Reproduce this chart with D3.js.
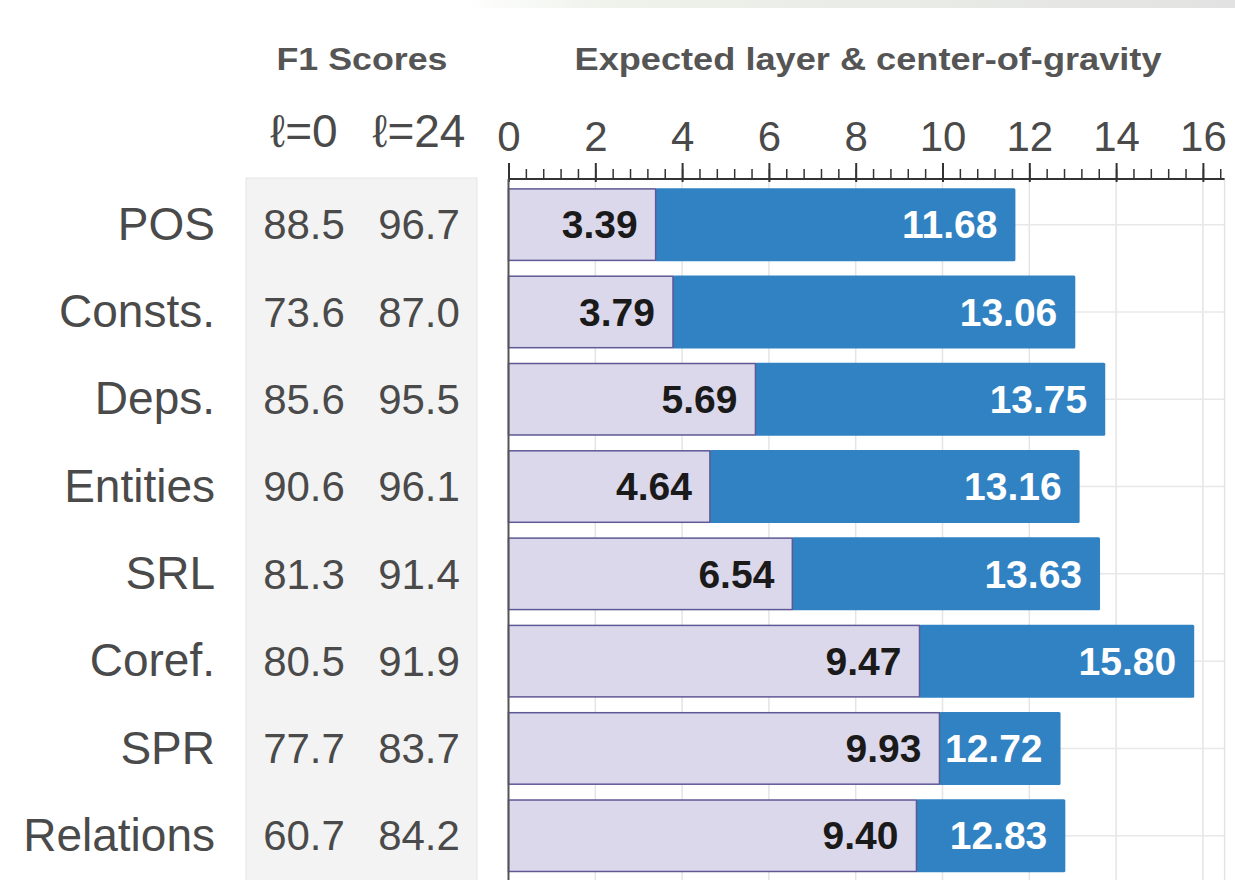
<!DOCTYPE html>
<html><head><meta charset="utf-8">
<script src="https://cdn.jsdelivr.net/npm/d3@7"></script>
<style>html,body{margin:0;padding:0;background:#fff;}svg{display:block;}</style>
</head><body>
<svg id="c" width="1235" height="880"></svg>
<script>
const categories = ["POS","Consts.","Deps.","Entities","SRL","Coref.","SPR","Relations"];
const expectedLayer = [3.39,3.79,5.69,4.64,6.54,9.47,9.93,9.40];
const centerOfGravity = [11.68,13.06,13.75,13.16,13.63,15.80,12.72,12.83];
const f1Layer0 = ["88.5","73.6","85.6","90.6","81.3","80.5","77.7","60.7"];
const f1Layer24 = ["96.7","87.0","95.5","96.1","91.4","91.9","83.7","84.2"];
const f1Headers = ["ℓ=0","ℓ=24"];
const xTicks = [0,2,4,6,8,10,12,14,16];

const svg = d3.select("#c");
const font = "'Liberation Sans', Arial, Helvetica, sans-serif";

// faint top strip (screenshot artifact)
const defs = svg.append("defs");
const g = defs.append("linearGradient").attr("id","topg").attr("x1","0").attr("x2","1");
g.append("stop").attr("offset","0").attr("stop-color","#ffffff");
g.append("stop").attr("offset","0.2").attr("stop-color","#eef2ea");
g.append("stop").attr("offset","0.6").attr("stop-color","#e9ebe6");
g.append("stop").attr("offset","1").attr("stop-color","#e2e2e2");
svg.append("rect").attr("x",460).attr("y",0).attr("width",775).attr("height",8).attr("fill","url(#topg)");

const x = d3.scaleLinear().domain([0,16.5]).range([508.5,1224.6]);
const y = d3.scaleBand().domain(categories).range([181,181+8*87.3]).paddingInner(0.164).paddingOuter(0.082);
const axisY = 179;

// gridlines
const grid = svg.append("g");
grid.selectAll("line.v").data(xTicks.slice(1).concat([16.5])).join("line")
  .attr("x1",d=>x(d)).attr("x2",d=>x(d)).attr("y1",axisY).attr("y2",880)
  .attr("stroke","#e4e4e4").attr("stroke-width",1.5);
grid.selectAll("line.h").data(categories).join("line")
  .attr("x1",x(0)).attr("x2",x(16.5)).attr("y1",d=>y(d)+y.bandwidth()/2).attr("y2",d=>y(d)+y.bandwidth()/2)
  .attr("stroke","#e8e8e8").attr("stroke-width",1.5);

// F1 table background
svg.append("rect").attr("x",246).attr("y",178).attr("width",231).attr("height",710)
  .attr("fill","#f3f3f3").attr("stroke","#e6e6e6").attr("stroke-width",1);

// headers
svg.append("text").attr("x",362).attr("y",70).attr("text-anchor","middle")
  .attr("font-family",font).attr("font-weight","bold").attr("font-size",32).attr("fill","#555")
  .attr("textLength",171).attr("lengthAdjust","spacingAndGlyphs").text("F1 Scores");
svg.append("text").attr("x",868).attr("y",70).attr("text-anchor","middle")
  .attr("font-family",font).attr("font-weight","bold").attr("font-size",32).attr("fill","#555")
  .attr("textLength",587).attr("lengthAdjust","spacingAndGlyphs").text("Expected layer & center-of-gravity");
const colX = [304,419];
svg.selectAll("text.fh").data(f1Headers).join("text")
  .attr("x",(d,i)=>colX[i]).attr("y",147).attr("text-anchor","middle")
  .attr("font-family",font).attr("font-size",46).attr("fill","#4a4a4a").text(d=>d);

// category labels
svg.selectAll("text.cat").data(categories).join("text")
  .attr("x",215).attr("y",d=>y(d)+y.bandwidth()/2).attr("dy","0.33em").attr("text-anchor","end")
  .attr("font-family",font).attr("font-size",46).attr("fill","#4a4a4a").text(d=>d);

// F1 values
[f1Layer0,f1Layer24].forEach((arr,j)=>{
  svg.append("g").selectAll("text").data(arr).join("text")
    .attr("x",colX[j]).attr("y",(d,i)=>y(categories[i])+y.bandwidth()/2).attr("dy","0.35em").attr("text-anchor","middle")
    .attr("font-family",font).attr("font-size",42).attr("fill","#4a4a4a").text(d=>d);
});

// bars
const bars = svg.append("g");
bars.selectAll("rect.cog").data(categories).join("rect")
  .attr("x",(d,i)=>x(expectedLayer[i])).attr("y",d=>y(d))
  .attr("width",(d,i)=>x(centerOfGravity[i])-x(expectedLayer[i])).attr("height",y.bandwidth())
  .attr("fill","#3182c3").attr("rx",1.5);
bars.selectAll("rect.el").data(categories).join("rect")
  .attr("x",x(0)).attr("y",d=>y(d)+0.75)
  .attr("width",(d,i)=>x(expectedLayer[i])-x(0)).attr("height",y.bandwidth()-1.5)
  .attr("fill","#dcd8ec").attr("stroke","#5e5894").attr("stroke-width",1.5);

// bar labels
bars.selectAll("text.el").data(categories).join("text")
  .attr("x",(d,i)=>x(expectedLayer[i])-18).attr("y",d=>y(d)+y.bandwidth()/2).attr("dy","0.35em")
  .attr("text-anchor","end").attr("font-family",font).attr("font-weight","bold").attr("font-size",39)
  .attr("fill","#1a1a1a").text((d,i)=>expectedLayer[i].toFixed(2));
bars.selectAll("text.cog").data(categories).join("text")
  .attr("x",(d,i)=>x(centerOfGravity[i])-18).attr("y",d=>y(d)+y.bandwidth()/2).attr("dy","0.35em")
  .attr("text-anchor","end").attr("font-family",font).attr("font-weight","bold").attr("font-size",39)
  .attr("fill","#ffffff").text((d,i)=>centerOfGravity[i].toFixed(2));

// axis
const axis = d3.axisTop(x).tickValues(d3.range(0,16.41,0.4).map(v=>+v.toFixed(1))).tickSize(10).tickFormat("");
const ag = svg.append("g").attr("transform",`translate(0,${axisY})`).call(axis);
ag.select(".domain").attr("stroke","#333").attr("stroke-width",2).attr("d",`M${x(0)},0H${x(16.5)}`);
ag.selectAll(".tick line").attr("stroke","#333").attr("stroke-width",1.5);
const major = d3.axisTop(x).tickValues(xTicks).tickSize(19).tickPadding(12);
const mg = svg.append("g").attr("transform",`translate(0,${axisY+3})`).call(major);
mg.select(".domain").remove();
mg.selectAll(".tick line").attr("stroke","#333").attr("stroke-width",2);
mg.selectAll(".tick text").attr("font-family",font).attr("font-size",42).attr("fill","#4a4a4a").attr("dy","0");
// zero vertical axis line
svg.append("line").attr("x1",x(0)).attr("x2",x(0)).attr("y1",axisY).attr("y2",880).attr("stroke","#555").attr("stroke-width",2);
</script>
</body></html>
